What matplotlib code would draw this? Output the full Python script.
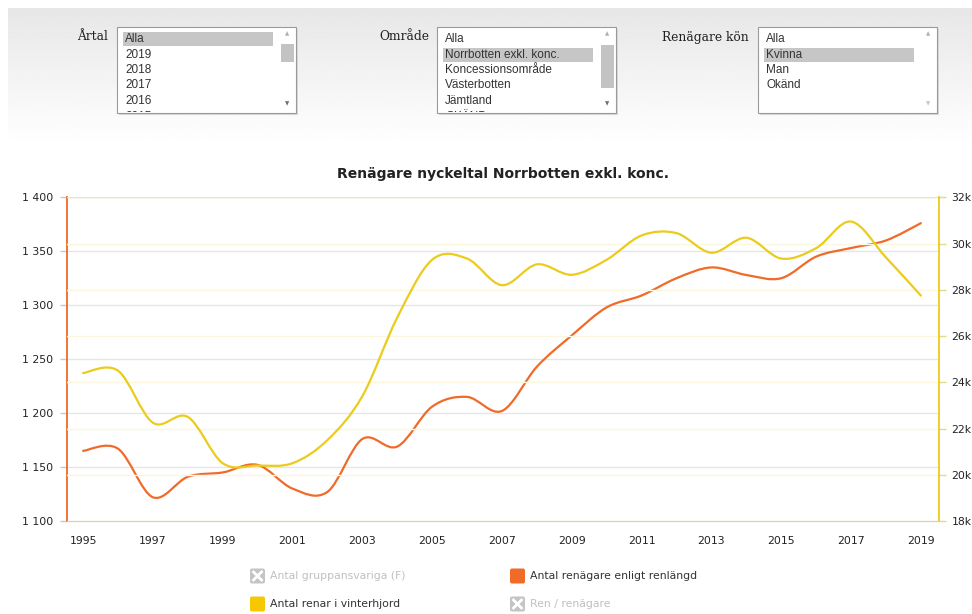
import numpy as np
import matplotlib
matplotlib.use("Agg")
import matplotlib.pyplot as plt
from matplotlib.path import Path
from matplotlib.patches import PathPatch, Rectangle, FancyBboxPatch
from matplotlib.ticker import FuncFormatter
from matplotlib.transforms import Bbox

# data
years = list(range(1995, 2020))
owners = [1165, 1167, 1122, 1141, 1145, 1152, 1130, 1127, 1176, 1169, 1206, 1215, 1202,
          1243, 1272, 1298, 1309, 1325, 1335, 1328, 1325, 1345, 1353, 1360, 1376]
reindeer = [24400, 24500, 22250, 22500, 20500, 20400, 20500, 21500, 23400, 26800, 29300,
            29350, 28200, 29100, 28650, 29300, 30350, 30450, 29600, 30250, 29350, 29800,
            30950, 29400, 27750]
year_ticks = list(range(1995, 2020, 2))
left_ticks = [1100, 1150, 1200, 1250, 1300, 1350, 1400]
right_ticks = [18000, 20000, 22000, 24000, 26000, 28000, 30000, 32000]

title = "Renägare nyckeltal Norrbotten exkl. konc."
artal_items = ["Alla", "2019", "2018", "2017", "2016", "2015"]
omrade_items = ["Alla", "Norrbotten exkl. konc.", "Koncessionsområde", "Västerbotten", "Jämtland", "OKÄND"]
kon_items = ["Alla", "Kvinna", "Man", "Okänd"]
legend_names = ["Antal gruppansvariga (F)", "Antal renägare enligt renlängd",
                "Antal renar i vinterhjord", "Ren / renägare"]

ORANGE = "#F06A28"
YELLOW = "#EBCB1B"
W, H = 972, 614


def spline_path(xs, ys):
    # catmull-rom curve through the points, drawn as bezier segments
    n = len(xs)
    pts = [(xs[i], ys[i]) for i in range(n)]
    verts = [pts[0]]
    codes = [Path.MOVETO]
    for i in range(n - 1):
        p0 = pts[max(i - 1, 0)]
        p1 = pts[i]
        p2 = pts[i + 1]
        p3 = pts[min(i + 2, n - 1)]
        c1 = (p1[0] + (p2[0] - p0[0]) / 6, p1[1] + (p2[1] - p0[1]) / 6)
        c2 = (p2[0] - (p3[0] - p1[0]) / 6, p2[1] - (p3[1] - p1[1]) / 6)
        verts += [c1, c2, p2]
        codes += [Path.CURVE4] * 3
    return Path(verts, codes)


fig = plt.figure(figsize=(W / 100, H / 100), dpi=100)
fig.patch.set_facecolor("white")

# page / filter panel drawn in pixel coordinates
ui = fig.add_axes([0, 0, 1, 1], zorder=0)
ui.set_xlim(0, W)
ui.set_ylim(H, 0)
ui.axis("off")

grad = np.linspace(0.905, 1.0, 140)[:, None] * np.ones((1, 50))
ui.imshow(grad, cmap="gray", vmin=0, vmax=1, extent=(8, W, 145, 8), aspect="auto",
          interpolation="bilinear", zorder=0)


def listbox(x0, label, label_x, items, selected, thumb):
    y0, w, h = 27, 179, 86
    ui.add_patch(Rectangle((x0 + 1.5, y0 + 1.5), w, h, facecolor="#d8d8d8", edgecolor="none", zorder=1))
    ui.add_patch(Rectangle((x0, y0), w, h, facecolor="white", edgecolor="#9a9a9a", lw=0.8, zorder=2))
    clip = Bbox([[x0, H - (y0 + h) + 1], [x0 + w, H - y0]])
    ui.text(label_x, 37, label, family="DejaVu Serif", fontsize=8.8, color="#222222",
            ha="right", va="center", zorder=3)
    if selected is not None:
        ui.add_patch(Rectangle((x0 + 6, 32 + 15.5 * selected), 150, 14, facecolor="#c6c6c6",
                               edgecolor="none", zorder=3))
    for i, it in enumerate(items):
        t = ui.text(x0 + 8, 39 + 15.5 * i, it, family="Liberation Sans", fontsize=8.5,
                    color="#333333", va="center", ha="left", zorder=4)
        t.set_clip_on(True)
        t.set_clip_box(clip)
    ui.text(x0 + 170, 34, "▲", fontsize=4, color="#b0b0b0", ha="center", va="center", zorder=4)
    ui.text(x0 + 170, 104, "▼", fontsize=4, color="#707070" if thumb else "#c8c8c8",
            ha="center", va="center", zorder=4)
    if thumb:
        ui.add_patch(Rectangle((x0 + 164, thumb[0]), 13, thumb[1] - thumb[0],
                               facecolor="#c3c3c3", edgecolor="none", zorder=4))


listbox(117, "Årtal", 108, artal_items, 0, (44, 62))
listbox(437, "Område", 429, omrade_items, 1, (45, 88))
listbox(758, "Renägare kön", 749, kon_items, 1, None)

ui.text(503, 174, title, fontsize=10, fontweight="bold", color="#222222", ha="center", va="center")

# legend
leg_pos = [(250, 576), (510, 576), (250, 604), (510, 604)]
leg_col = [None, ORANGE, "#F5C800", None]
for (lx, ly), name, col in zip(leg_pos, legend_names, leg_col):
    fc = col if col else "#c4c4c4"
    ui.add_patch(FancyBboxPatch((lx, ly - 7.5), 15, 15, boxstyle="round,pad=0,rounding_size=2",
                                facecolor=fc, edgecolor="none", zorder=2))
    if col is None:
        ui.plot([lx + 3.5, lx + 11.5], [ly - 4, ly + 4], color="white", lw=2, zorder=3)
        ui.plot([lx + 3.5, lx + 11.5], [ly + 4, ly - 4], color="white", lw=2, zorder=3)
    ui.text(lx + 20, ly, name, fontsize=7.8, color="#333333" if col else "#c0c0c0",
            ha="left", va="center", zorder=3)

# chart
ax = fig.add_axes([66.7 / W, 1 - 521 / H, (939 - 66.7) / W, (521 - 197.3) / H], zorder=1)
ax.set_facecolor("white")
ax.set_xlim(1994.53, 2019.52)
ax.set_ylim(1100, 1400)
ax2 = ax.twinx()
ax2.set_ylim(18000, 32000)

for y in left_ticks[1:]:
    ax.axhline(y, color="#e6e6e6", lw=1, zorder=0)
for y in right_ticks[1:-1]:
    ax2.axhline(y, color="#fbf6de", lw=1, zorder=0)
ax2.axhline(32000, color="#f1e6b0", lw=1, zorder=0)

ax.add_patch(PathPatch(spline_path(years, owners), facecolor="none", edgecolor=ORANGE, lw=1.6,
                       capstyle="round", joinstyle="round", zorder=3))
ax2.add_patch(PathPatch(spline_path(years, reindeer), facecolor="none", edgecolor=YELLOW, lw=1.6,
                        capstyle="round", joinstyle="round", zorder=3))

for a in (ax, ax2):
    a.spines["top"].set_visible(False)
    a.spines["bottom"].set_color("#e2cfa0")
    a.spines["left"].set_visible(False)
    a.spines["right"].set_visible(False)
ax.spines["left"].set_visible(True)
ax.spines["left"].set_color(ORANGE)
ax.spines["left"].set_linewidth(1.3)
ax2.spines["right"].set_visible(True)
ax2.spines["right"].set_color(YELLOW)
ax2.spines["right"].set_linewidth(1.3)

ax.set_xticks(year_ticks)
ax.set_xticklabels([str(y) for y in year_ticks])
ax.tick_params(axis="x", length=0, pad=11, labelsize=7.8, labelcolor="#222222")
ax.set_yticks(left_ticks)
ax.yaxis.set_major_formatter(FuncFormatter(lambda v, p: f"{int(v):,}".replace(",", " ")))
ax.tick_params(axis="y", length=5, width=1, color="#c8c8c8", pad=5, labelsize=7.8, labelcolor="#222222")
ax2.set_yticks(right_ticks)
ax2.yaxis.set_major_formatter(FuncFormatter(lambda v, p: f"{int(v / 1000)}k"))
ax2.tick_params(axis="y", length=5, width=1, color="#e8da80", pad=4, labelsize=7.8, labelcolor="#222222")

fig.savefig("out.png", dpi=100, facecolor="white")
